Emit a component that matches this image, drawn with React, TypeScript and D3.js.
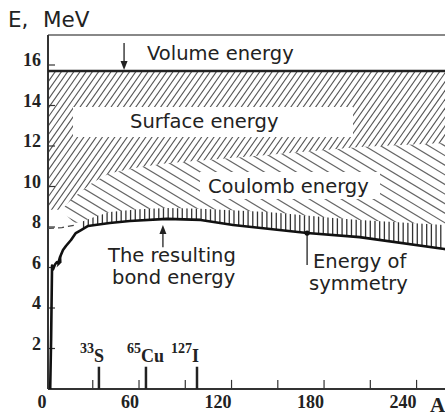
import React from 'react';
import * as d3 from 'd3';

// Binding energy per nucleon (semi-empirical formula picture)
const volumeE = 15.7;
const topE = 17.48;
const yTicks = [2, 4, 6, 8, 10, 12, 14, 16];
const xLabels = [0, 60, 120, 180, 240];
const xMinor = [30, 60, 90, 120, 150, 180, 210, 240];

// [A, E]
const bondCurve: [number, number][] = [
  [2.4, 0], [3.0, 2.5], [3.6, 6.1], [4.2, 5.9], [5.5, 6.15], [6.8, 6.27], [7.6, 6.2],
  [8.8, 6.52], [10.7, 6.86], [12.6, 7.06], [15.9, 7.36], [19, 7.7], [22.4, 7.85],
  [27, 8.05], [31.5, 8.1], [41, 8.2], [54, 8.3], [78, 8.4], [100, 8.35], [121, 8.1],
  [145, 7.9], [169, 7.7], [203, 7.5], [258, 6.91], [270, 6.8],
];
const coulombLow: [number, number][] = [
  [10, 8.85], [14, 8.5], [18, 8.2], [22.4, 8.25], [31, 8.5], [41, 8.74], [60, 8.88],
  [78, 8.94], [100, 8.9], [143, 8.74], [151, 8.69], [186, 8.44], [203, 8.35], [258, 8.1], [270, 8.05],
];
const coulombUp: [number, number][] = [
  [10, 8.85], [14, 9.2], [20, 9.6], [30, 10.2], [41, 10.65], [60, 10.95], [78, 11.15],
  [110, 11.35], [143, 11.55], [203, 11.95], [258, 12.15], [270, 12.2],
];
const surfaceLeft: [number, number][] = [[1, 8.85]];
const dashedGuide: [number, number][] = [[1, 7.93], [10, 7.97], [20, 8.12]];

const isoMass = ['33', '65', '127'];
const isoSym = ['S', 'Cu', 'I'];
const isoA = [34, 64.5, 97.6];

const W = 445;
const H = 417;
const sans = '"DejaVu Sans", Verdana, sans-serif';
const serif = '"Liberation Serif", "Times New Roman", serif';

// hatch lines over the whole picture, later clipped to a region
// rising = "/" , falling = "\"
function hatch(angleDeg: number, step: number, rising: boolean) {
  const span = H / Math.tan((angleDeg * Math.PI) / 180);
  return d3.range(-span - step, W + step, step).map(c =>
    rising
      ? { x1: c, y1: H, x2: c + span, y2: 0 }
      : { x1: c, y1: 0, x2: c + span, y2: H }
  );
}

export default function App() {
  const x = d3.scaleLinear().domain([0, 270]).range([46.5, 46.5 + 270 * 1.542]);
  const y = d3.scaleLinear().domain([0, 16]).range([389, 65]);
  const line = d3.line<[number, number]>().x(d => x(d[0])).y(d => y(d[1]));
  const poly = (pts: [number, number][]) => line(pts) + 'Z';

  const axisX = 48;
  const yTop = y(topE);
  const y0 = y(0);

  const surfacePoly = poly([
    [1, volumeE], [270, volumeE],
    ...coulombUp.slice().reverse(),
    ...surfaceLeft,
  ]);
  const coulombPoly = poly([...coulombUp, ...coulombLow.slice().reverse()]);
  const bandTop = coulombLow.filter(d => d[0] >= 22.4);
  const bandBottom = bondCurve.filter(d => d[0] >= 22.4);
  const symPoly = poly([...bandTop, ...bandBottom.slice().reverse()]);

  const surfLines = hatch(55, 6.2, true);
  const coulLines = hatch(31, 16, false);
  const symLines = d3.range(x(21), W, 4.7);

  const arrowDown = (ax: number, ay: number) => `M${ax - 3.5},${ay - 9}L${ax + 3.5},${ay - 9}L${ax},${ay}Z`;
  const arrowUp = (ax: number, ay: number) => `M${ax - 3.5},${ay + 9}L${ax + 3.5},${ay + 9}L${ax},${ay}Z`;

  const volArrowX = x(50.3);
  const bondArrowX = x(75.5);
  const symX = x(169);

  return (
    <svg width={W} height={H} style={{ position: 'absolute', left: 0, top: 0, background: '#fff' }}>
      <defs>
        <clipPath id="cSurface"><path d={surfacePoly} /></clipPath>
        <clipPath id="cCoulomb"><path d={coulombPoly} /></clipPath>
        <clipPath id="cSym"><path d={symPoly} /></clipPath>
      </defs>

      {/* hatched regions */}
      <g clipPath="url(#cSurface)" stroke="#555" strokeWidth={1.1}>
        {surfLines.map((l, i) => <line key={i} {...l} />)}
      </g>
      <g clipPath="url(#cCoulomb)" stroke="#666" strokeWidth={1.2}>
        {coulLines.map((l, i) => <line key={i} {...l} />)}
      </g>
      <g clipPath="url(#cSym)" stroke="#333" strokeWidth={1.3}>
        {symLines.map((sx, i) => <line key={i} x1={sx} x2={sx} y1={150} y2={300} />)}
      </g>

      {/* label backgrounds */}
      <rect x={73} y={107} width={280} height={30} fill="#fff" />
      <rect x={200} y={172} width={180} height={27} fill="#fff" />

      {/* frame */}
      <line x1={axisX} x2={W} y1={yTop} y2={yTop} stroke="#888" strokeWidth={2} />
      <line x1={axisX} x2={axisX} y1={yTop} y2={y0} stroke="#333" strokeWidth={2} />
      <line x1={axisX} x2={W} y1={y0} y2={y0} stroke="#333" strokeWidth={2} />

      {/* volume energy line */}
      <line x1={axisX} x2={W} y1={y(volumeE)} y2={y(volumeE)} stroke="#222" strokeWidth={2.5} />

      {/* y ticks */}
      {yTicks.map(t => (
        <g key={t}>
          <line x1={axisX} x2={axisX + 7} y1={y(t)} y2={y(t)} stroke="#333" strokeWidth={1.2} />
          <text x={41} y={y(t) + 1} textAnchor="end" fontFamily={serif} fontWeight="bold" fontSize={18} fill="#222">{t}</text>
        </g>
      ))}

      {/* x ticks */}
      {xMinor.map(t => (
        <line key={t} x1={x(t)} x2={x(t)} y1={y0} y2={y(0.45)} stroke="#333" strokeWidth={1.2} />
      ))}
      {xLabels.map(t => (
        <text key={t} x={x(t)} y={408} textAnchor="end" fontFamily={serif} fontWeight="bold" fontSize={18} fill="#222">{t}</text>
      ))}
      <text x={430} y={412} fontFamily={serif} fontWeight="bold" fontSize={21} fill="#222">A</text>

      {/* isotope markers */}
      {isoA.map((a, i) => (
        <g key={isoSym[i]}>
          <line x1={x(a)} x2={x(a)} y1={y0} y2={y(1.1)} stroke="#222" strokeWidth={2.5} />
          <text x={x(a) - isoMass[i].length * 7 - 5} y={362} fontFamily={serif} fontWeight="bold" fill="#222">
            <tspan fontSize={14} dy={-9}>{isoMass[i]}</tspan>
            <tspan fontSize={18} dy={9}>{isoSym[i]}</tspan>
          </text>
        </g>
      ))}

      {/* guide and bond curve */}
      <path d={line(dashedGuide) ?? ''} fill="none" stroke="#444" strokeWidth={1.3} strokeDasharray="6 4" />
      <path d={line(bondCurve) ?? ''} fill="none" stroke="#111" strokeWidth={2.6} strokeLinejoin="round" />
      <path d={`M${x(9.5)},${y(6.7)}L${x(6.5)},${y(6.0)}L${x(9.8)},${y(6.25)}Z`} fill="#111" />

      {/* arrows */}
      <line x1={volArrowX} x2={volArrowX} y1={43} y2={y(volumeE) - 6} stroke="#222" strokeWidth={1.3} />
      <path d={arrowDown(volArrowX, y(volumeE) - 1)} fill="#222" />
      <line x1={bondArrowX} x2={bondArrowX} y1={y(7.0)} y2={y(8.1) + 6} stroke="#222" strokeWidth={1.3} />
      <path d={arrowUp(bondArrowX, y(8.1))} fill="#222" />
      <line x1={symX} x2={symX} y1={y(7.7)} y2={y(6.12)} stroke="#222" strokeWidth={1.3} />
      <circle cx={symX} cy={y(7.7)} r={2.6} fill="#111" />

      {/* texts */}
      <text y={27} fontFamily={sans} fontSize={21.5} fill="#222">
        <tspan x={8}>E,</tspan>
        <tspan x={43}>MeV</tspan>
      </text>
      <text x={147} y={60} fontFamily={sans} fontSize={19.5} fill="#222">Volume energy</text>
      <text x={130} y={128} fontFamily={sans} fontSize={19.5} fill="#222">Surface energy</text>
      <text x={208} y={193} fontFamily={sans} fontSize={19.5} fill="#222">Coulomb energy</text>
      <text x={108} y={262} fontFamily={sans} fontSize={19.5} fill="#222">The resulting</text>
      <text x={112} y={284} fontFamily={sans} fontSize={19.5} fill="#222">bond energy</text>
      <text x={313} y={268} fontFamily={sans} fontSize={19.5} fill="#222">Energy of</text>
      <text x={309} y={290} fontFamily={sans} fontSize={19.5} fill="#222">symmetry</text>
    </svg>
  );
}
